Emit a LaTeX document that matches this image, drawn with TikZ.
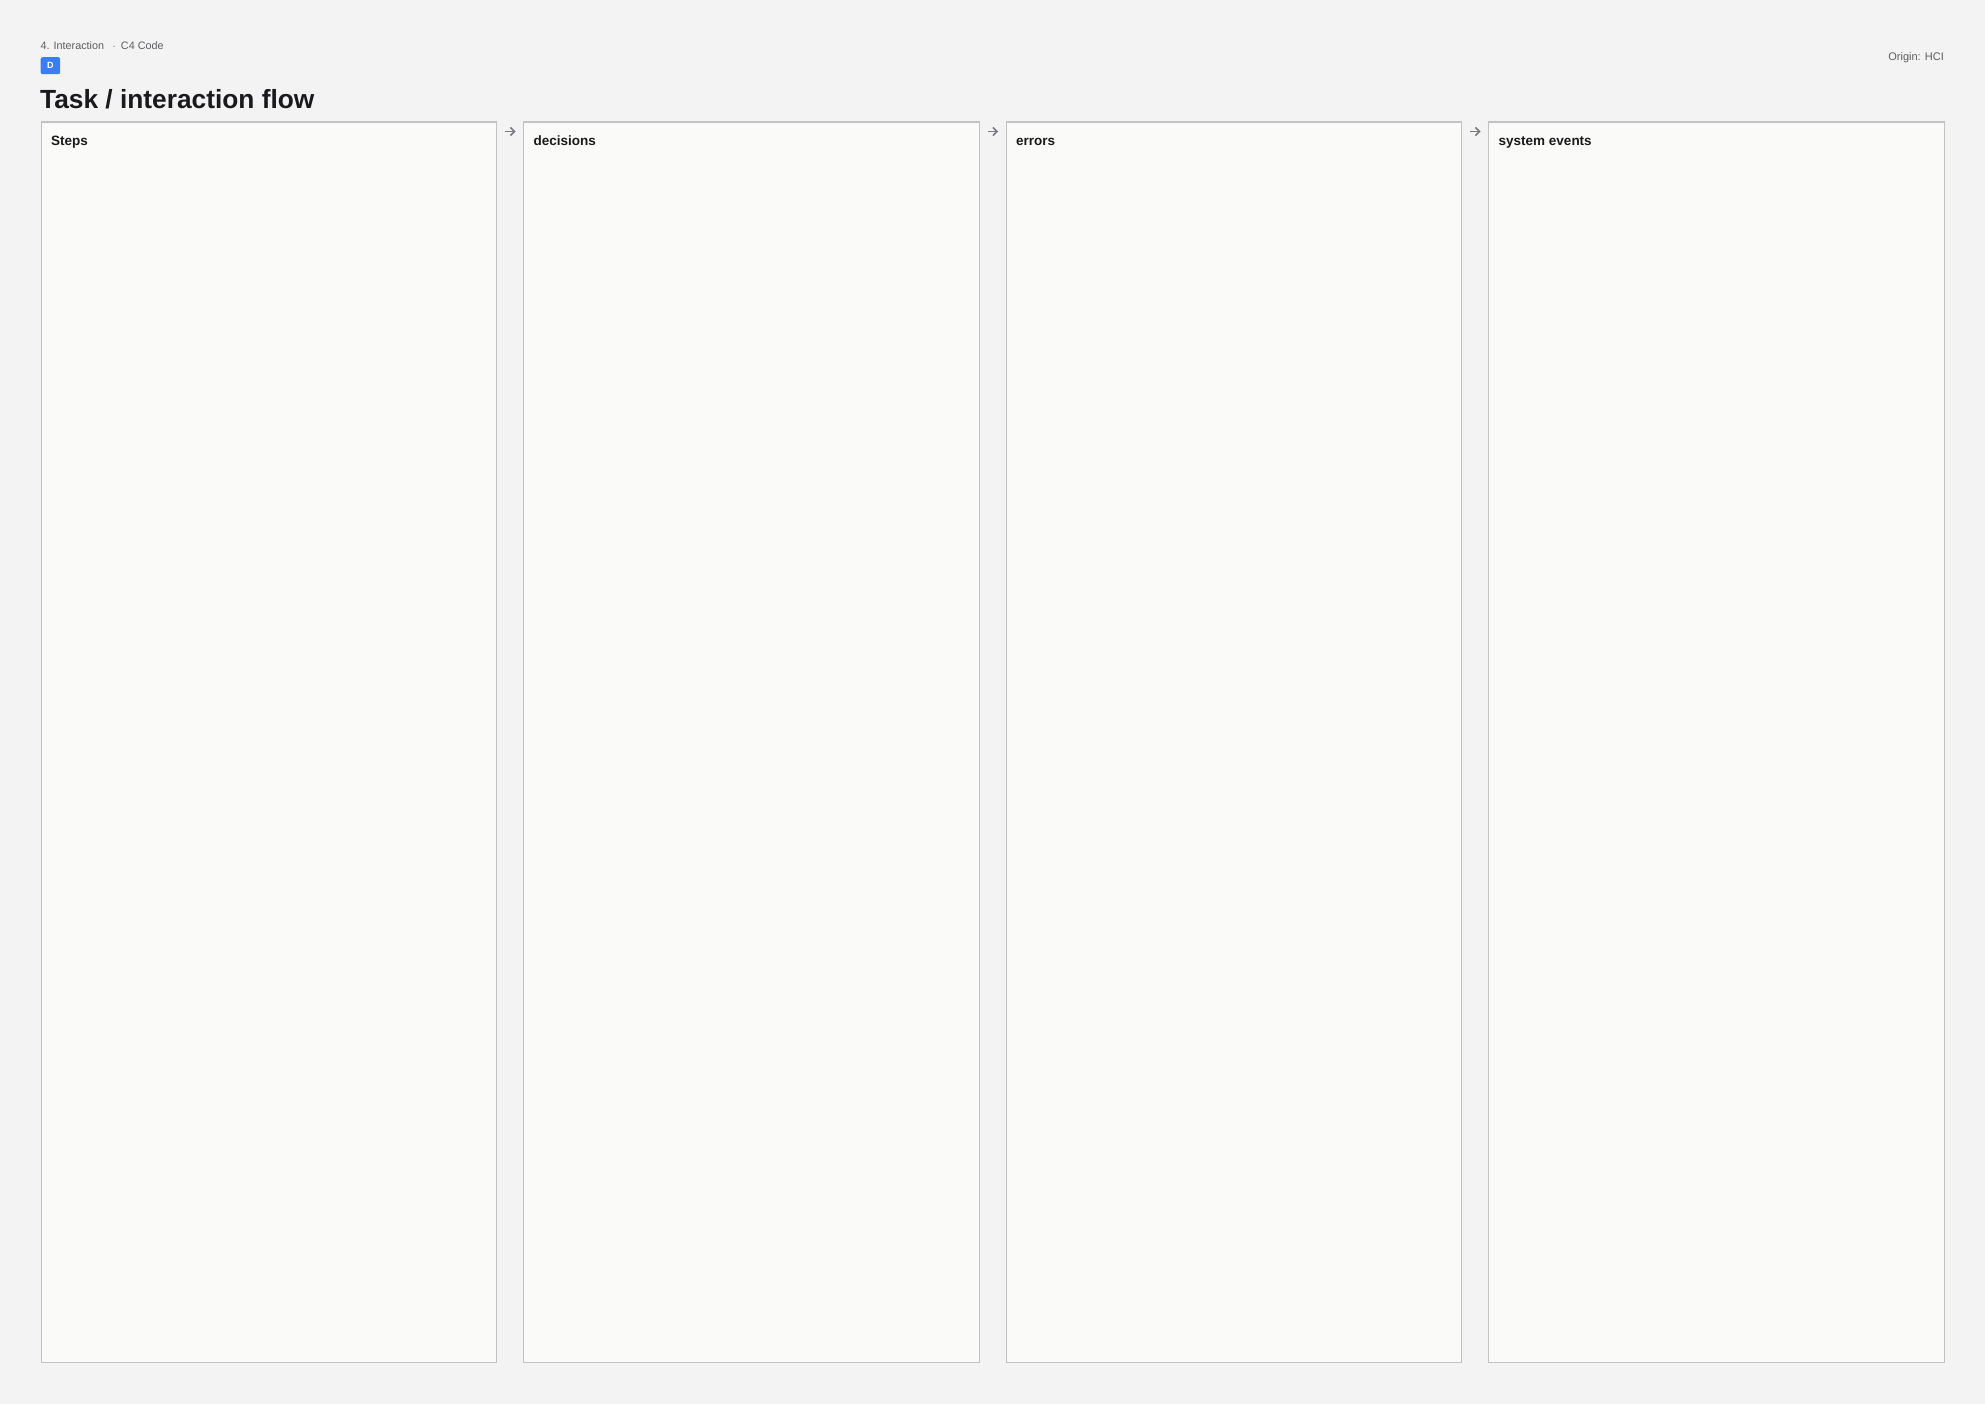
\documentclass[tikz,border=0pt]{standalone}
\usepackage{fontspec}
\setmainfont{Liberation Sans}
\usetikzlibrary{arrows.meta}

\definecolor{canvas}{HTML}{F3F3F3}
\definecolor{lanefill}{HTML}{FAFAF8}
\definecolor{laneline}{HTML}{C2C2C6}
\definecolor{inkdark}{HTML}{1A1A1C}
\definecolor{inkgrey}{HTML}{5E5E62}
\definecolor{arrowgrey}{HTML}{7A7A80}
\definecolor{badgeblue}{HTML}{3B7EF3}

\begin{document}
\begin{tikzpicture}[x=1pt, y=-1pt]
        \tikzstyle{lane}=[rectangle, draw=laneline, fill=lanefill, line width=1.4pt, minimum width=455.5pt, minimum height=1240.5pt, anchor=north west, inner sep=0pt]
        \tikzstyle{lanetitle}=[anchor=base west, inner sep=0pt, text=inkdark, font=\fontsize{13.5}{16}\selectfont\bfseries]
        \tikzstyle{flow}=[-{Straight Barb[length=4pt, width=8pt]}, line width=1.5pt, draw=arrowgrey]
        % \draw[draw=black!20] (0,0) grid[step=100] (1985,1404);
        \fill[canvas] (0,0) rectangle (1985,1404);
        \useasboundingbox (0,0) rectangle (1985,1404);

        \node[anchor=base west, inner sep=0pt, text=inkgrey, font=\fontsize{10.8}{12}\selectfont] (crumb) at (40.5, 50) {4. Interaction \enspace$\cdot$\enspace C4 Code};
        \node[rectangle, rounded corners=2pt, fill=badgeblue, minimum width=19.5pt, minimum height=17pt, anchor=north west, inner sep=0pt, text=white, font=\fontsize{9}{10}\selectfont\bfseries] (badge) at (40.5, 57) {D};
        \node[anchor=base west, inner sep=0pt, text=inkdark, font=\fontsize{26.3}{30}\selectfont\bfseries] (title) at (40, 108.3) {Task / interaction flow};
        \node[anchor=base east, inner sep=0pt, text=inkgrey, font=\fontsize{11}{13}\selectfont] (origin) at (1944, 61) {Origin: HCI};

        \node[lane] (steps) at (40.5, 121.5) {};
        \node[lane] (decisions) at (523, 121.5) {};
        \node[lane] (errors) at (1005.5, 121.5) {};
        \node[lane] (events) at (1488, 121.5) {};

        \node[lanetitle] (steps-title) at ([xshift=10.5pt, yshift=-24pt]steps.north west) {Steps};
        \node[lanetitle] (decisions-title) at ([xshift=10.5pt, yshift=-24pt]decisions.north west) {decisions};
        \node[lanetitle] (errors-title) at ([xshift=10.5pt, yshift=-24pt]errors.north west) {errors};
        \node[lanetitle] (events-title) at ([xshift=10.5pt, yshift=-24pt]events.north west) {system events};

        \draw[flow] ([xshift=8pt, yshift=-10pt]steps.north east) -- ([xshift=-7.5pt, yshift=-10pt]decisions.north west);
        \draw[flow] ([xshift=8pt, yshift=-10pt]decisions.north east) -- ([xshift=-7.5pt, yshift=-10pt]errors.north west);
        \draw[flow] ([xshift=8pt, yshift=-10pt]errors.north east) -- ([xshift=-7.5pt, yshift=-10pt]events.north west);
\end{tikzpicture}
\end{document}
